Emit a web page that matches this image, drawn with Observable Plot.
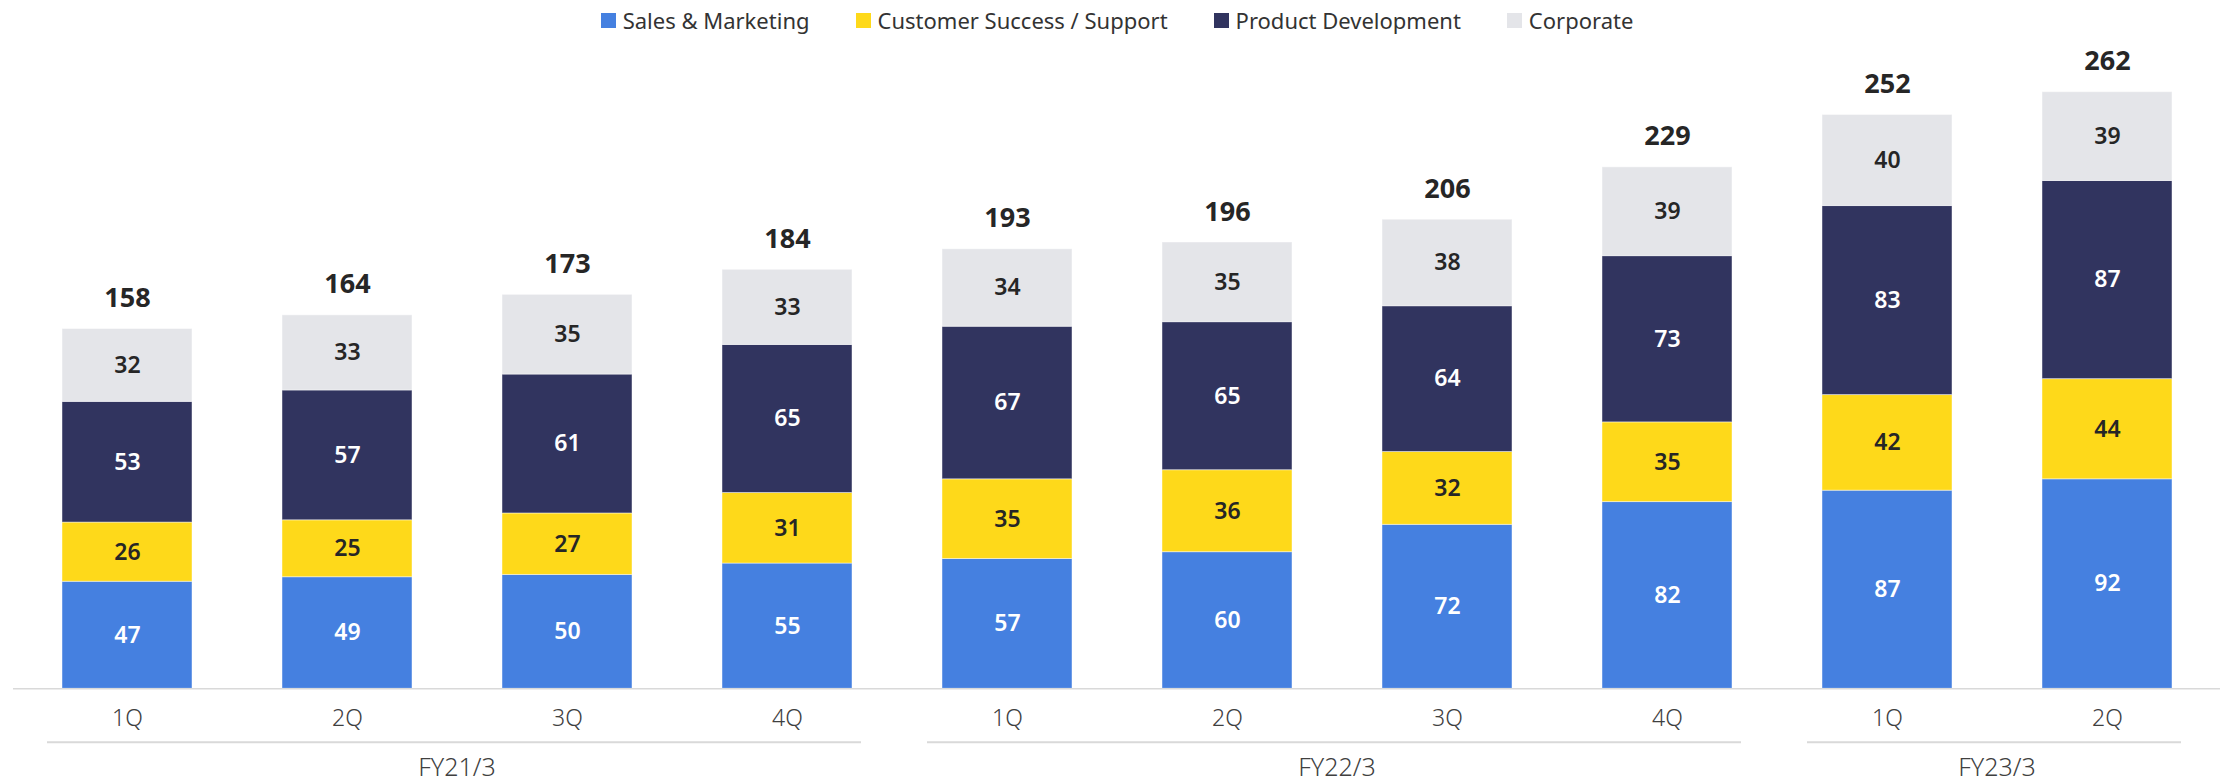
<!DOCTYPE html>
<html>
<head>
<meta charset="utf-8">
<script src="https://cdn.jsdelivr.net/npm/d3@7"></script>
<script src="https://cdn.jsdelivr.net/npm/@observablehq/plot@0.6"></script>
<style>
  html, body { margin: 0; padding: 0; background: #fff; }
  #legend { height: 40px; width: 2234px; display: flex; justify-content: center; align-items: center; gap: 46px;
            font-family: 'Noto Sans', sans-serif; font-size: 22px; color: #333; }
  #legend .item { display: flex; align-items: center; }
  #legend .sw { width: 15px; height: 15px; margin-right: 7px; display: inline-block; }
  svg g[aria-label="x-axis tick label"] { font-weight: 300; font-size: 23px; }
  svg g.group-labels { font-weight: 300; }
</style>
</head>
<body>
<div id="legend"></div>
<div id="chart"></div>
<script>
const fiscalYears = ["FY21/3","FY21/3","FY21/3","FY21/3","FY22/3","FY22/3","FY22/3","FY22/3","FY23/3","FY23/3"];
const quarters = ["1Q","2Q","3Q","4Q","1Q","2Q","3Q","4Q","1Q","2Q"];
const seriesNames = ["Sales & Marketing","Customer Success / Support","Product Development","Corporate"];
const seriesColors = ["#4580E0","#FED91A","#31345F","#E4E5E9"];
const seriesLabelColors = ["#ffffff","#262626","#ffffff","#262626"];
const salesMarketing = [47,49,50,55,57,60,72,82,87,92];
const customerSuccess = [26,25,27,31,35,36,32,35,42,44];
const productDev = [53,57,61,65,67,65,64,73,83,87];
const corporate = [32,33,35,33,34,35,38,39,40,39];
const totals = [158,164,173,184,193,196,206,229,252,262];
const groupNames = ["FY21/3","FY22/3","FY23/3"];

const keys = fiscalYears.map((fy, i) => fy + " " + quarters[i]);
const seriesValues = [salesMarketing, customerSuccess, productDev, corporate];
const rows = [];
seriesNames.forEach((s, si) => keys.forEach((k, i) => rows.push({key: k, series: s, value: seriesValues[si][i], light: seriesLabelColors[si] === "#ffffff"})));
const totalRows = keys.map((k, i) => ({key: k, total: totals[i]}));
const groups = groupNames.map(g => {
  const ks = keys.filter((k, i) => fiscalYears[i] === g);
  return {name: g, first: ks[0], last: ks[ks.length - 1]};
});

// legend
const legend = document.getElementById("legend");
seriesNames.forEach((s, i) => {
  const it = document.createElement("div");
  it.className = "item";
  it.innerHTML = `<span class="sw" style="background:${seriesColors[i]}"></span><span>${s}</span>`;
  legend.appendChild(it);
});

const chart = Plot.plot({
  width: 2234,
  height: 743,
  marginLeft: 13,
  marginRight: 14,
  marginTop: 51.7,
  marginBottom: 94.7,
  style: {fontFamily: "'Noto Sans', sans-serif", fontSize: "22px", color: "#404040", background: "#fff", overflow: "visible"},
  x: {domain: keys, paddingInner: 0.41, paddingOuter: 0.205, tickSize: 0, tickPadding: 21, tickFormat: k => k.split(" ")[1], label: null},
  y: {domain: [0, 262], axis: null},
  color: {domain: seriesNames, range: seriesColors},
  marks: [
    Plot.barY(rows, {x: "key", y: "value", fill: "series", order: seriesNames, stroke: "#fff", strokeWidth: 1, strokeOpacity: 0.45}),
    Plot.ruleY([0], {stroke: "#D9D9D9", strokeWidth: 1.5}),
    Plot.ruleY(groups, {y: d => 0, x1: "first", x2: "last", dy: 53.4, insetLeft: -15, insetRight: -9, stroke: "#D9D9D9", strokeWidth: 2}),
    Plot.text(rows, Plot.stackY({x: "key", y: "value", z: "series", order: seriesNames,
      text: d => d.light ? null : String(d.value),
      fill: "#262626", fontWeight: 600, fontSize: 23})),
    Plot.text(rows, Plot.stackY({x: "key", y: "value", z: "series", order: seriesNames,
      text: d => d.light ? String(d.value) : null,
      fill: "#ffffff", fontWeight: 600, fontSize: 23})),
    Plot.text(totalRows, {x: "key", y: "total", text: d => String(d.total), dy: -30.5, fill: "#262626", fontWeight: 700, fontSize: 27})
  ]
});
document.getElementById("chart").appendChild(chart);

// group labels, positioned through Plot's own x and y scales
const xs = chart.scale("x");
const ys = chart.scale("y");
const bw = xs.bandwidth;
const svg = d3.select(chart);
const gl = svg.append("g").attr("class", "group-labels").attr("font-size", 25).attr("fill", "#404040").attr("text-anchor", "middle");
groups.forEach(g => {
  const x0 = xs.apply(g.first);
  const x1 = xs.apply(g.last) + bw;
  gl.append("text").attr("x", (x0 + x1) / 2).attr("y", ys.apply(0) + 80).attr("dy", "0.32em").text(g.name);
});
</script>
</body>
</html>
